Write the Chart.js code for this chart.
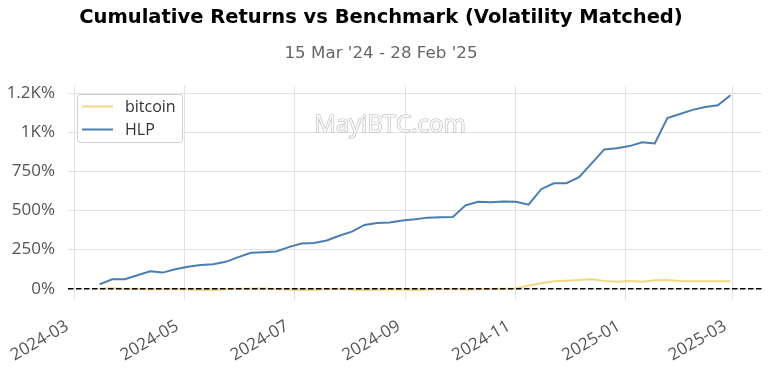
<!DOCTYPE html>
<html>
<head>
<meta charset="utf-8">
<script src="https://cdn.jsdelivr.net/npm/chart.js@4"></script>
<style>
html,body{margin:0;padding:0;background:#fff;}
#wrap{width:769px;height:374px;position:relative;}
</style>
</head>
<body>
<div id="wrap"><canvas id="c" width="769" height="374"></canvas></div>
<script>
const dates = ["2024-03-15","2024-03-22","2024-03-29","2024-04-05","2024-04-12","2024-04-19","2024-04-26",
"2024-05-03","2024-05-10","2024-05-17","2024-05-24","2024-05-31","2024-06-07","2024-06-14","2024-06-21","2024-06-28",
"2024-07-05","2024-07-12","2024-07-19","2024-07-26","2024-08-02","2024-08-09","2024-08-16","2024-08-23","2024-08-30",
"2024-09-06","2024-09-13","2024-09-20","2024-09-27","2024-10-04","2024-10-11","2024-10-18","2024-10-25",
"2024-11-01","2024-11-08","2024-11-15","2024-11-22","2024-11-29","2024-12-06","2024-12-13","2024-12-20","2024-12-27",
"2025-01-03","2025-01-10","2025-01-17","2025-01-24","2025-01-31","2025-02-07","2025-02-14","2025-02-21","2025-02-28"];
const hlp = [28,60,60,86,112,103,125,140,152,157,172,202,230,234,238,266,289,292,309,339,365,408,420,424,437,444,455,457,459,
534,556,553,559,556,538,637,675,675,714,802,892,900,913,937,930,1093,1119,1145,1164,1175,1239];
const bitcoin = [0,2,-2,-1,-6,-4,-2,-5,-7,-8,-3,-1,0,1,-3,-6,-8,-7,-3,-1,-6,-8,-7,-6,-4,-10,-6,-3,-4,-5,-3,-2,0,1,
20,35,48,51,55,60,50,45,50,45,54,56,50,48,48,47,48];
const xTickLabels = ["2024-03","2024-05","2024-07","2024-09","2024-11","2025-01","2025-03"];
const yTicks = [0,250,500,750,1000,1250];
const yTickLabels = ["0%","250%","500%","750%","1K%","1.2K%"];
const seriesNames = ["bitcoin","HLP"];
const titleText = "Cumulative Returns vs Benchmark (Volatility Matched)";
const subtitleText = "15 Mar '24 - 28 Feb '25";
const watermarkText = "MayiBTC.com";

const toTs = s => { const p = s.split("-").map(Number); return Date.UTC(p[0], p[1]-1, p[2] || 1); };
const xs = dates.map(toTs);
const xMin0 = Math.min(...xs), xMax0 = Math.max(...xs);
const xPad = (xMax0 - xMin0) * 0.05;
const allY = hlp.concat(bitcoin);
const yMin0 = Math.min(...allY), yMax0 = Math.max(...allY);
const yPad = (yMax0 - yMin0) * 0.05;
const xTickVals = xTickLabels.map(toTs);

const FONT = "'Open Sans', sans-serif";
const TFONT = "'DejaVu Sans', sans-serif";
const COLORS = ["#f3d77f", "#4a7eb3"];

const decor = {
  id: 'decor',
  beforeDatasetsDraw(chart) {
    const ctx = chart.ctx;
    ctx.save();
    ctx.font = "24px " + FONT;
    ctx.textAlign = "center"; ctx.textBaseline = "middle";
    ctx.lineWidth = 1.2;
    ctx.strokeStyle = "rgba(175,175,175,0.9)";
    ctx.fillStyle = "rgba(250,250,250,1)";
    ctx.strokeText(watermarkText, 390, 125);
    ctx.fillText(watermarkText, 390, 125);
    ctx.restore();
  },
  afterDatasetsDraw(chart) {
    const ctx = chart.ctx, a = chart.chartArea, ys = chart.scales.y;
    const y0 = ys.getPixelForValue(0);
    ctx.save();
    ctx.strokeStyle = "#000"; ctx.lineWidth = 1.5; ctx.setLineDash([5.5, 2.5]);
    ctx.beginPath(); ctx.moveTo(a.left, y0); ctx.lineTo(a.right, y0); ctx.stroke();
    ctx.restore();
    ctx.save();
    const bx = 77.5, by = 94.5, bw = 105, bh = 48, r = 3;
    ctx.fillStyle = "rgba(255,255,255,0.85)";
    ctx.strokeStyle = "#d0d0d0"; ctx.lineWidth = 1;
    ctx.beginPath();
    ctx.moveTo(bx + r, by); ctx.lineTo(bx + bw - r, by); ctx.quadraticCurveTo(bx + bw, by, bx + bw, by + r);
    ctx.lineTo(bx + bw, by + bh - r); ctx.quadraticCurveTo(bx + bw, by + bh, bx + bw - r, by + bh);
    ctx.lineTo(bx + r, by + bh); ctx.quadraticCurveTo(bx, by + bh, bx, by + bh - r);
    ctx.lineTo(bx, by + r); ctx.quadraticCurveTo(bx, by, bx + r, by);
    ctx.closePath(); ctx.fill(); ctx.stroke();
    ctx.font = "16px " + FONT; ctx.textBaseline = "middle"; ctx.textAlign = "left";
    chart.data.datasets.forEach((ds, i) => {
      const ly = 106.5 + i * 23;
      ctx.strokeStyle = ds.borderColor; ctx.lineWidth = 2;
      ctx.beginPath(); ctx.moveTo(82, ly); ctx.lineTo(113, ly); ctx.stroke();
      ctx.fillStyle = "#333";
      ctx.fillText(ds.label, 125, ly + 1);
    });
    ctx.restore();
  }
};

new Chart(document.getElementById('c'), {
  type: 'line',
  data: {
    datasets: [
      { label: seriesNames[0], data: xs.map((x, i) => ({x, y: bitcoin[i]})), borderColor: COLORS[0], borderWidth: 2, pointRadius: 0, tension: 0 },
      { label: seriesNames[1], data: xs.map((x, i) => ({x, y: hlp[i]})), borderColor: COLORS[1], borderWidth: 2, pointRadius: 0, tension: 0 }
    ]
  },
  options: {
    responsive: false,
    animation: false,
    devicePixelRatio: 1,
    layout: { padding: { left: 0, right: 7, top: 0, bottom: 0 } },
    plugins: {
      legend: { display: false },
      tooltip: { enabled: false },
      title: { display: true, text: titleText, color: "#000", font: { family: TFONT, size: 19.5, weight: 'bold' }, padding: { top: 6, bottom: 8 } },
      subtitle: { display: true, text: subtitleText, color: "#666", font: { family: TFONT, size: 16.7 }, padding: { top: 6, bottom: 22 } }
    },
    scales: {
      x: {
        type: 'linear', min: xMin0 - xPad, max: xMax0 + xPad,
        border: { display: false },
        grid: { color: "#e2e2e2", drawTicks: false, lineWidth: 1 },
        afterBuildTicks: s => { s.ticks = xTickVals.map(v => ({ value: v })); },
        afterFit: s => { s.height = 74; },
        ticks: {
          color: "#555", font: { family: FONT, size: 17 }, autoSkip: false,
          maxRotation: 30, minRotation: 30, padding: 16, labelOffset: -7,
          callback: (v, i) => xTickLabels[i]
        }
      },
      y: {
        min: yMin0 - yPad, max: yMax0 + yPad,
        border: { display: false },
        grid: { color: "#e2e2e2", drawTicks: false, lineWidth: 1 },
        afterBuildTicks: s => { s.ticks = yTicks.map(v => ({ value: v })); },
        afterFit: s => { s.width = 68; },
        ticks: {
          color: "#555", font: { family: FONT, size: 17 }, padding: 13,
          callback: (v, i) => yTickLabels[i]
        }
      }
    }
  },
  plugins: [decor]
});
</script>
</body>
</html>
